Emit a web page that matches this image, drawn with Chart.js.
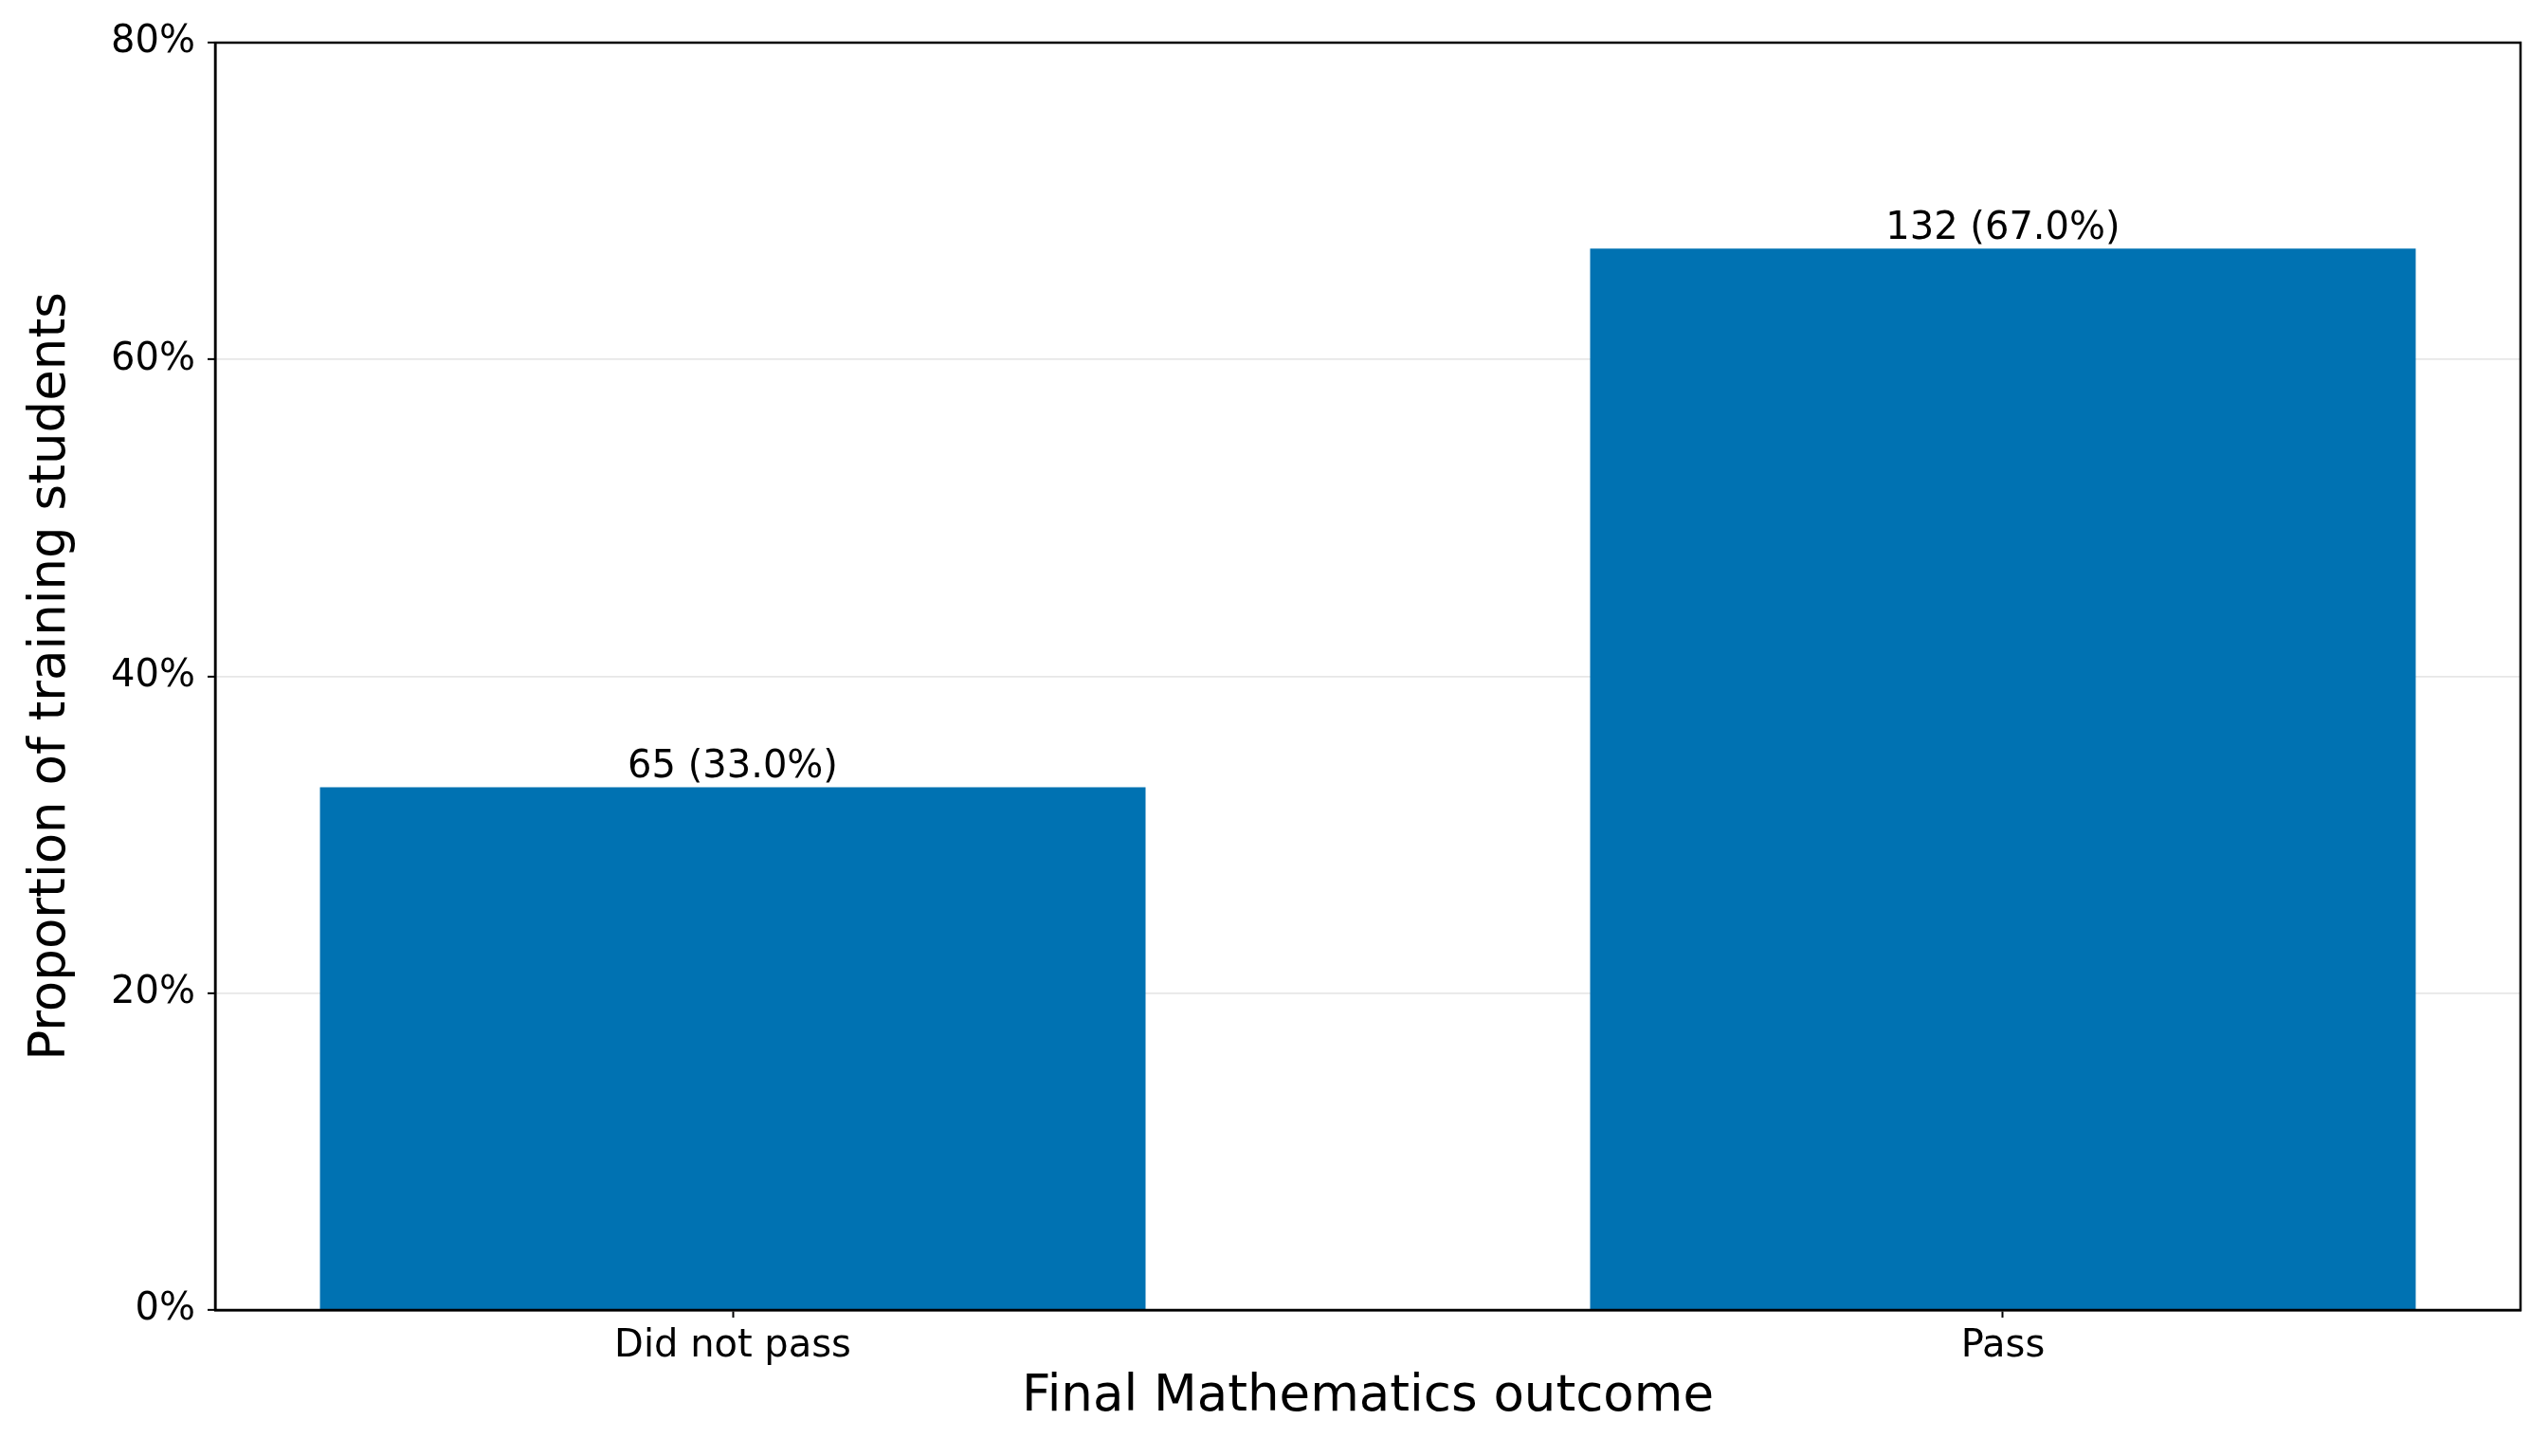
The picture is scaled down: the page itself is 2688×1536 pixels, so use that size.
<!DOCTYPE html>
<html>

<head>
    <title>Final Mathematics outcome</title>
    <meta charset="utf-8">
    <script src="https://cdn.jsdelivr.net/npm/chart.js@4.4.1/dist/chart.umd.min.js"></script>
    <style>
        body {
            background: #fff;
            margin: 0;
        }

        .wrap {
            width: 2688px;
            height: 1536px;
        }
    </style>
</head>

<body>
    <div class="wrap">
        <canvas id="outcome-Chart"></canvas>
    </div>
    <script>
        // Data
        const categories = ['Did not pass', 'Pass'];
        const counts = [65, 132];
        const shares = [33.0, 67.0]; // % of training students
        const yTicks = [0, 20, 40, 60, 80];

        const font = 'DejaVu Sans';
        const barColor = '#0072b2';

        // top + right spines
        const framePlugin = {
            id: 'frame',
            afterDraw(chart) {
                const { ctx, chartArea: a } = chart;
                ctx.save();
                ctx.strokeStyle = '#000';
                ctx.lineWidth = 2.5;
                ctx.strokeRect(a.left, a.top, a.right - a.left, a.bottom - a.top);
                ctx.restore();
            }
        };

        // "n (x.x%)" above each bar
        const barLabelPlugin = {
            id: 'barLabels',
            afterDraw(chart) {
                const { ctx } = chart;
                const meta = chart.getDatasetMeta(0);
                ctx.save();
                ctx.font = '40px "' + font + '"';
                ctx.fillStyle = '#000';
                ctx.textAlign = 'center';
                ctx.textBaseline = 'alphabetic';
                meta.data.forEach((bar, i) => {
                    ctx.fillText(`${counts[i]} (${shares[i].toFixed(1)}%)`, bar.x, bar.y - 10);
                });
                ctx.restore();
            }
        };

        const data = {
            datasets: [{
                label: 'Share',
                data: categories.map((c, i) => ({ x: i, y: shares[i] })),
                backgroundColor: barColor,
                borderWidth: 0,
                categoryPercentage: 1,
                barPercentage: 0.65
            }]
        };

        const config = {
            type: 'bar',
            data: data,
            options: {
                responsive: true,
                maintainAspectRatio: false,
                devicePixelRatio: 1,
                animation: false,
                layout: { padding: { top: 45, right: 29, bottom: 0, left: 0 } },
                plugins: {
                    legend: { display: false },
                    tooltip: { enabled: false }
                },
                scales: {
                    x: {
                        type: 'linear',
                        min: -0.4075,
                        max: 1.4075,
                        offset: false,
                        z: 1,
                        afterBuildTicks: (scale) => {
                            scale.ticks = categories.map((c, i) => ({ value: i }));
                        },
                        afterFit: (scale) => { scale.height = 154; },
                        grid: {
                            offset: false,
                            drawOnChartArea: false,
                            drawTicks: true,
                            tickLength: 8,
                            tickWidth: 2,
                            tickColor: '#000'
                        },
                        border: { display: true, color: '#000', width: 2.5 },
                        ticks: {
                            padding: 7,
                            color: '#000',
                            font: { family: font, size: 40 },
                            callback: (v) => categories[v]
                        },
                        title: {
                            display: true,
                            text: 'Final Mathematics outcome',
                            color: '#000',
                            font: { family: font, size: 53 },
                            padding: { top: 0, bottom: 30 }
                        }
                    },
                    y: {
                        min: 0,
                        max: 80,
                        z: 1,
                        afterBuildTicks: (scale) => {
                            scale.ticks = yTicks.map(v => ({ value: v }));
                        },
                        afterFit: (scale) => { scale.width = 227; },
                        grid: {
                            color: 'rgba(176,176,176,0.3)',
                            lineWidth: 1.7,
                            drawTicks: true,
                            tickLength: 8,
                            tickWidth: 2,
                            tickColor: '#000'
                        },
                        border: { display: true, color: '#000', width: 2.5 },
                        ticks: {
                            padding: 13,
                            color: '#000',
                            font: { family: font, size: 40 },
                            callback: (v) => v + '%'
                        },
                        title: {
                            display: true,
                            text: 'Proportion of training students',
                            color: '#000',
                            font: { family: font, size: 53 },
                            padding: { top: 22, bottom: 0 }
                        }
                    }
                }
            },
            plugins: [framePlugin, barLabelPlugin]
        };

        new Chart(document.getElementById('outcome-Chart'), config);
    </script>
</body>

</html>
